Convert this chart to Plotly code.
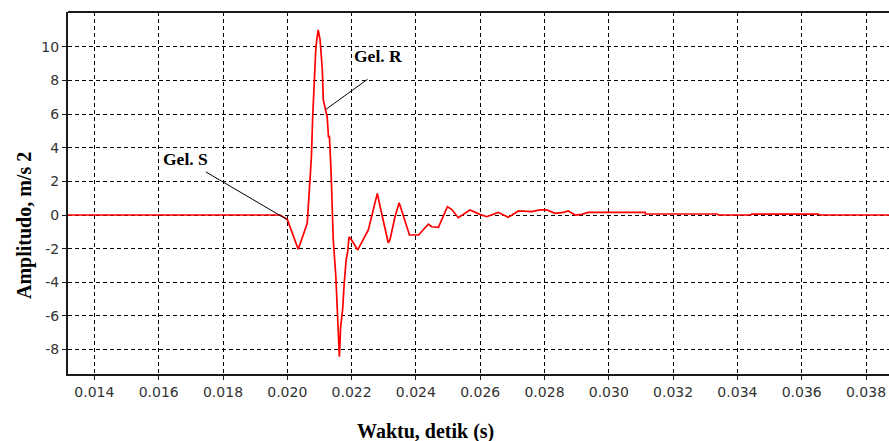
import plotly.graph_objects as go

# ---- data ----
time_s = [0.0131, 0.01977, 0.02000, 0.02034, 0.02062, 0.02068, 0.02075, 0.02079,
          0.02084, 0.02089, 0.02096, 0.02102, 0.02109, 0.02112, 0.02119, 0.02124,
          0.02128, 0.02131, 0.02136, 0.02140, 0.02143, 0.02151, 0.02156, 0.02159,
          0.02162, 0.02166, 0.02172, 0.02177, 0.02183, 0.02188, 0.02192, 0.02200,
          0.02219, 0.02252, 0.02268, 0.02280, 0.02291, 0.02301, 0.02314, 0.02319,
          0.02335, 0.02348, 0.02359, 0.02380, 0.02408, 0.02439, 0.02449, 0.02470,
          0.02498, 0.02511, 0.02532, 0.02568, 0.02599, 0.02620, 0.02656, 0.02687,
          0.02719, 0.02739, 0.02760, 0.02786, 0.02807, 0.02833, 0.02859, 0.02874,
          0.02895, 0.02916, 0.02936, 0.03113, 0.03114, 0.03336, 0.03341, 0.03439,
          0.03445, 0.03651, 0.03657, 0.0388]
amplitude = [0.0, 0.0, -0.26, -2.04, -0.49, 1.68, 3.47, 5.85,
             7.93, 10.02, 11.01, 10.42, 8.63, 6.85, 6.25, 5.85,
             4.66, 4.66, 2.68, 0.70, -1.49, -3.67, -5.65, -7.74,
             -8.43, -6.65, -5.65, -4.07, -2.68, -2.18, -1.29, -1.49,
             -2.08, -0.89, 0.40, 1.29, 0.30, -0.49, -1.65, -1.49,
             -0.10, 0.73, 0.10, -1.19, -1.19, -0.55, -0.70, -0.73,
             0.49, 0.34, -0.16, 0.30, 0.04, -0.10, 0.16, -0.14,
             0.24, 0.24, 0.20, 0.30, 0.30, 0.10, 0.16, 0.24,
             0.0, 0.04, 0.16, 0.16, 0.06, 0.06, 0.0, 0.0,
             0.05, 0.05, 0.0, 0.0]

x_ticks = [0.014, 0.016, 0.018, 0.020, 0.022, 0.024, 0.026, 0.028,
           0.030, 0.032, 0.034, 0.036, 0.038]
x_tick_labels = ["0.014", "0.016", "0.018", "0.020", "0.022", "0.024", "0.026",
                 "0.028", "0.030", "0.032", "0.034", "0.036", "0.038"]
y_ticks = [-8, -6, -4, -2, 0, 2, 4, 6, 8, 10]
y_tick_labels = ["-8", "-6", "-4", "-2", "0", "2", "4", "6", "8", "10"]

x_title = "Waktu, detik (s)"
y_title = "Amplitudo, m/s 2"

label_s = "Gel. S"
label_r = "Gel. R"

axis_color = "#1a1a1a"
grid_color = "#000000"
tick_font = dict(family="DejaVu Sans", size=14, color="#333333")
serif_bold = dict(family="Liberation Serif", size=20, color="#000000", weight="bold")
label_font = dict(family="Liberation Serif", size=17.5, color="#000000", weight="bold")

fig = go.Figure()
fig.add_trace(go.Scatter(x=time_s, y=amplitude, mode="lines",
                         line=dict(color="#ff0000", width=1.7),
                         showlegend=False, hoverinfo="skip"))

fig.update_layout(
    width=889, height=441,
    margin=dict(l=68, r=0, t=12, b=67),
    paper_bgcolor="white", plot_bgcolor="white",
    showlegend=False,
)

fig.update_xaxes(
    range=[0.013179, 0.038715],
    tickvals=x_ticks, ticktext=x_tick_labels,
    tickfont=tick_font,
    ticks="outside", ticklen=4, tickcolor=axis_color, tickwidth=1,
    showline=True, linecolor=axis_color, linewidth=2,
    showgrid=True, gridcolor=grid_color, gridwidth=1.3, griddash="4px,3px",
    zeroline=False,
)
fig.update_yaxes(
    range=[-9.46, 12.08],
    tickvals=y_ticks, ticktext=y_tick_labels,
    tickfont=tick_font,
    ticks="outside", ticklen=4, tickcolor=axis_color, tickwidth=1,
    showline=True, linecolor=axis_color, linewidth=2,
    showgrid=True, gridcolor=grid_color, gridwidth=1.3, griddash="4px,3px",
    zeroline=False,
)

# top border of the frame
fig.add_shape(type="line", xref="paper", yref="paper", x0=0, x1=1, y0=1, y1=1,
              line=dict(color=axis_color, width=2))

# axis titles
fig.add_annotation(text=x_title, xref="paper", yref="paper", x=0.436, y=-0.16,
                   xanchor="center", yanchor="middle", showarrow=False,
                   font=serif_bold)
fig.add_annotation(text=y_title, xref="paper", yref="paper", x=-0.053, y=0.41,
                   xanchor="center", yanchor="middle", showarrow=False,
                   textangle=-90, font=serif_bold)

# wave labels with pointer lines
fig.add_annotation(x=0.019981, y=-0.26, ax=0.017418, ay=2.62,
                   xref="x", yref="y", axref="x", ayref="y",
                   text="", showarrow=True, arrowhead=0, arrowwidth=1,
                   arrowcolor="#000000", standoff=0, startstandoff=0)
fig.add_annotation(x=0.016849, y=3.33, xref="x", yref="y", text=label_s,
                   showarrow=False, font=label_font)
fig.add_annotation(x=0.021204, y=6.29, ax=0.022541, ay=8.14,
                   xref="x", yref="y", axref="x", ayref="y",
                   text="", showarrow=True, arrowhead=0, arrowwidth=1,
                   arrowcolor="#000000", standoff=0, startstandoff=0)
fig.add_annotation(x=0.022821, y=9.46, xref="x", yref="y", text=label_r,
                   showarrow=False, font=label_font)

fig.write_html("out.html")
